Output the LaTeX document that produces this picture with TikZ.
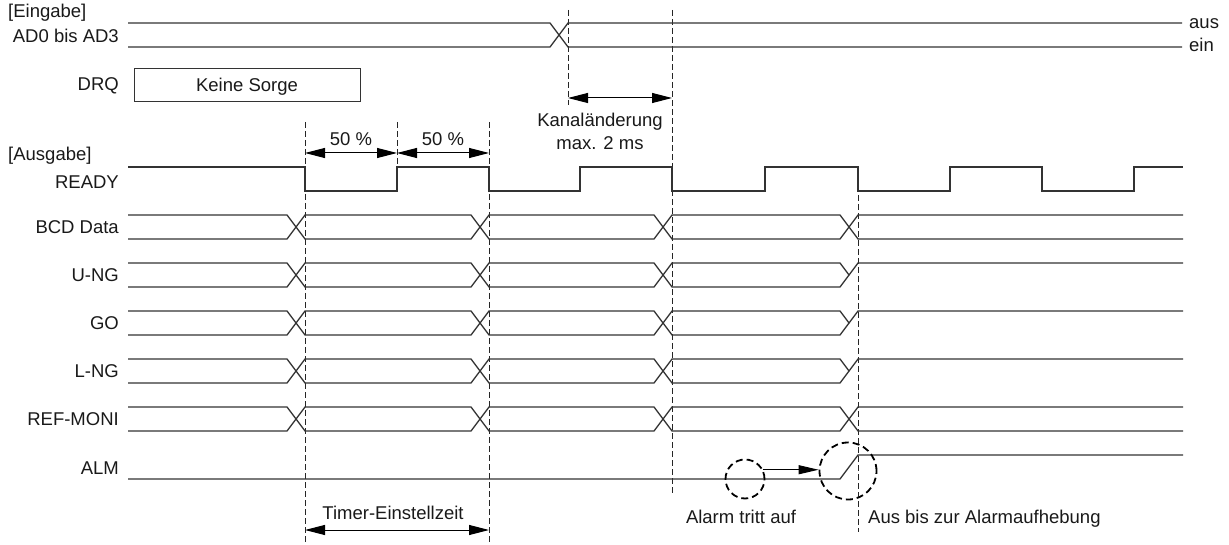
\documentclass[tikz,border=0pt]{standalone}
\usepackage{fontspec}
\setmainfont{Liberation Sans}
\usetikzlibrary{arrows.meta}

\begin{document}
\begin{tikzpicture}[x=1pt,y=-1pt,
    font=\fontsize{18.5}{22}\selectfont,
    sig/.style={draw=black!80, line width=1.3pt},
    guide/.style={draw=black!85, line width=1pt, dash pattern=on 6pt off 3pt},
    dimarrow/.style={draw=black, line width=1pt, {Triangle[length=20pt,width=10pt]}-{Triangle[length=20pt,width=10pt]}},
    txt/.style={inner sep=0pt, text height=13.2pt, text depth=0pt, text=black!90},
    rowlabel/.style={txt, anchor=east},
    ring/.style={circle, draw=black, line width=1.8pt, dash pattern=on 7pt off 4pt, inner sep=0pt}]
  \useasboundingbox (0,0) rectangle (1229,545);

  % labels on the left
  \node[txt, anchor=west] (eingabe) at (8,11) {[Eingabe]};
  \node[rowlabel] (adlbl) at (119,36) {AD0 bis AD3};
  \node[rowlabel] (drqlbl) at (119,84) {DRQ};
  \node[txt, anchor=west] (ausgabe) at (8,154) {[Ausgabe]};
  \node[rowlabel] (readylbl) at (119,182) {READY};
  \node[rowlabel] (bcdlbl) at (119,227) {BCD Data};
  \node[rowlabel] (unglbl) at (119,275) {U-NG};
  \node[rowlabel] (golbl) at (119,323) {GO};
  \node[rowlabel] (lnglbl) at (119,371) {L-NG};
  \node[rowlabel] (refmonilbl) at (119,419) {REF-MONI};
  \node[rowlabel] (almlbl) at (119,468) {ALM};

  % guide lines
  \draw[guide] (568,10) -- (568,105);
  \draw[guide] (672,10) -- (672,494);
  \draw[guide] (305,122) -- (305,545);
  \draw[guide] (397,122) -- (397,167);
  \draw[guide] (489,122) -- (489,545);
  \draw[guide] (858,195) -- (858,532);

  % input
  \draw[sig] (128,23) -- (550,23) -- (559,35) -- (550,47) -- (128,47);
  \draw[sig] (1182,23) -- (568,23) -- (559,35) -- (568,47) -- (1182,47);
  \node[txt, text height=9.6pt, anchor=west] (aus) at (1189,24) {aus};
  \node[txt, text height=9.6pt, anchor=west] (ein) at (1189,47) {ein};
  \node[txt, draw=black!80, line width=1pt, minimum width=226pt, minimum height=33pt] (drqbox) at (247,85) {Keine Sorge};

  % Kanalaenderung
  \coordinate (k0) at (568,98);
  \coordinate (k1) at (672,98);
  \draw[dimarrow] (k0) -- (k1);
  \node[txt] (kanal) at (600,120) {Kanaländerung};
  \node[txt] (kanalmax) at (600,143) {max. 2 ms};

  % duty 50/50
  \coordinate (p0) at (305,153);
  \coordinate (p1) at (397,153);
  \coordinate (p2) at (489,153);
  \draw[dimarrow] (p0) -- (p1);
  \draw[dimarrow] (p1) -- (p2);
  \node[txt] (duty1) at (351,139) {50 \%};
  \node[txt] (duty2) at (443,139) {50 \%};

  % READY
  \draw[sig] (128,167) -- (305,167) -- (305,191) -- (397,191) -- (397,167)
    -- (489,167) -- (489,191) -- (580,191) -- (580,167) -- (672,167)
    -- (672,191) -- (765,191) -- (765,167) -- (858,167) -- (858,191)
    -- (950,191) -- (950,167) -- (1042,167) -- (1042,191) -- (1134,191)
    -- (1134,167) -- (1183,167);

  % data outputs
  \foreach \t/\full in {215/1,263/0,311/0,359/0,407/1} {
    \pgfmathsetmacro\m{\t+12}
    \pgfmathsetmacro\b{\t+24}
    \draw[sig] (128,\t) -- (287,\t) -- (296,\m) -- (287,\b) -- (128,\b);
    \foreach \a/\e in {305/489,489/672,672/858}
      \draw[sig] (\a-9,\m) -- (\a,\t) -- (\e-18,\t) -- (\e-9,\m) -- (\e-18,\b) -- (\a,\b) -- cycle;
    \draw[sig] (849,\m) -- (858,\t) -- (1183,\t);
    \ifnum\full=1 \draw[sig] (849,\m) -- (858,\b) -- (1183,\b); \fi
  }

  % ALM
  \draw[sig] (128,479) -- (840,479) -- (858,455) -- (1183,455);
  \node[ring, minimum size=39pt] (alarmon) at (745,479) {};
  \node[ring, minimum size=57pt] (alarmoff) at (848,471) {};
  \draw[line width=1pt, -{Triangle[length=20pt,width=9pt]}] (alarmon.27) -- (alarmon.27 -| alarmoff.west);

  % bottom labels
  \coordinate (t0) at (305,530);
  \coordinate (t1) at (489,530);
  \draw[dimarrow] (t0) -- (t1);
  \node[txt] (timer) at (393,513) {Timer-Einstellzeit};
  \node[txt] (alarmtxt) at (741,517) {Alarm tritt auf};
  \node[txt, anchor=west] (auslbl) at (868,517) {Aus bis zur Alarmaufhebung};
\end{tikzpicture}
\end{document}
